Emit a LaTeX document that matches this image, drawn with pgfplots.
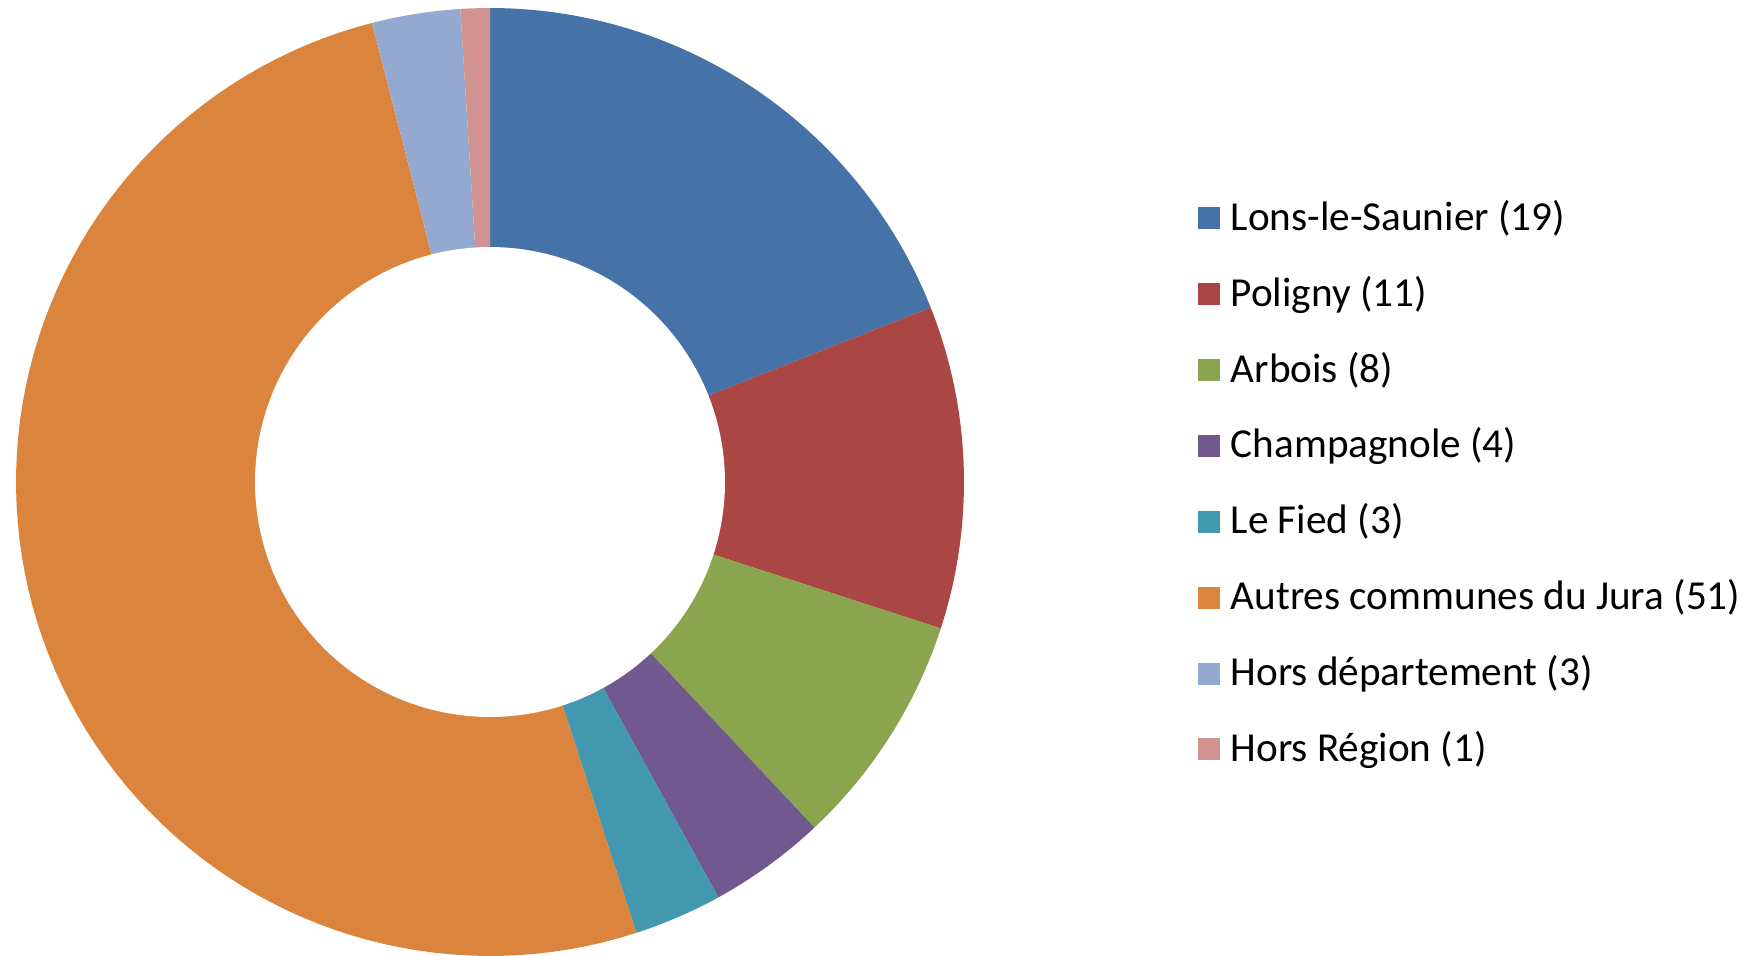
\documentclass[border=0pt]{standalone}
\usepackage{pgfplots}
\pgfplotsset{compat=1.18}
\usepackage{fontspec}
\setmainfont{Carlito}
\definecolor{c1}{HTML}{4572A7}
\definecolor{c2}{HTML}{AA4643}
\definecolor{c3}{HTML}{89A54E}
\definecolor{c4}{HTML}{71588F}
\definecolor{c5}{HTML}{4198AF}
\definecolor{c6}{HTML}{DB843D}
\definecolor{c7}{HTML}{93A9D0}
\definecolor{c8}{HTML}{D19392}
% values
\def\vA{19}\def\vB{11}\def\vC{8}\def\vD{4}\def\vE{3}\def\vF{51}\def\vG{3}\def\vH{1}
\pgfmathsetmacro\tot{\vA+\vB+\vC+\vD+\vE+\vF+\vG+\vH}
\pgfmathsetmacro\sA{0}
\pgfmathsetmacro\sB{\sA+\vA}
\pgfmathsetmacro\sC{\sB+\vB}
\pgfmathsetmacro\sD{\sC+\vC}
\pgfmathsetmacro\sE{\sD+\vD}
\pgfmathsetmacro\sF{\sE+\vE}
\pgfmathsetmacro\sG{\sF+\vF}
\pgfmathsetmacro\sH{\sG+\vG}
\pgfmathsetmacro\sI{\sH+\vH}
\def\cx{490}\def\cy{473}\def\Ro{474}\def\Ri{235}
\newcommand\slice[3]{%
  \addplot[fill=#1, draw=none, domain={#2*360/\tot}:{#3*360/\tot}, samples=90]
    ({\cx+\Ro*sin(x)},{\cy+\Ro*cos(x)}) -- (axis cs:\cx,\cy) -- cycle;
}
\begin{document}
\begin{tikzpicture}
\begin{axis}[
  x=0.25pt, y=0.25pt,
  xmin=0, xmax=1760, ymin=0, ymax=955,
  enlargelimits=false,
  hide axis, clip=false,
  legend cell align=left,
  legend image code/.code={\fill[#1] (0pt,-2.75pt) rectangle (5.5pt,2.75pt);},
  legend style={at={(0.6801,0.7932)}, anchor=north west, draw=none, fill=none,
    inner sep=0pt, font=\fontsize{10.3}{12}\selectfont,
    nodes={inner sep=0pt, text height=8pt, text depth=2pt},
    row sep=8.97pt,
    /tikz/every odd column/.append style={column sep=2.75pt}},
]
\path (axis cs:0,0) rectangle (axis cs:1760,955);
\slice{c1}{\sA}{\sB}\addlegendentry{Lons-le-Saunier (19)}
\slice{c2}{\sB}{\sC}\addlegendentry{Poligny (11)}
\slice{c3}{\sC}{\sD}\addlegendentry{Arbois (8)}
\slice{c4}{\sD}{\sE}\addlegendentry{Champagnole (4)}
\slice{c5}{\sE}{\sF}\addlegendentry{Le Fied (3)}
\slice{c6}{\sF}{\sG}\addlegendentry{Autres communes du Jura (51)}
\slice{c7}{\sG}{\sH}\addlegendentry{Hors département (3)}
\slice{c8}{\sH}{\sI}\addlegendentry{Hors Région (1)}
\addplot[fill=white, draw=none, domain=0:360, samples=180, forget plot]
  ({\cx+\Ri*sin(x)},{\cy+\Ri*cos(x)}) -- cycle;
\end{axis}
\end{tikzpicture}
\end{document}
